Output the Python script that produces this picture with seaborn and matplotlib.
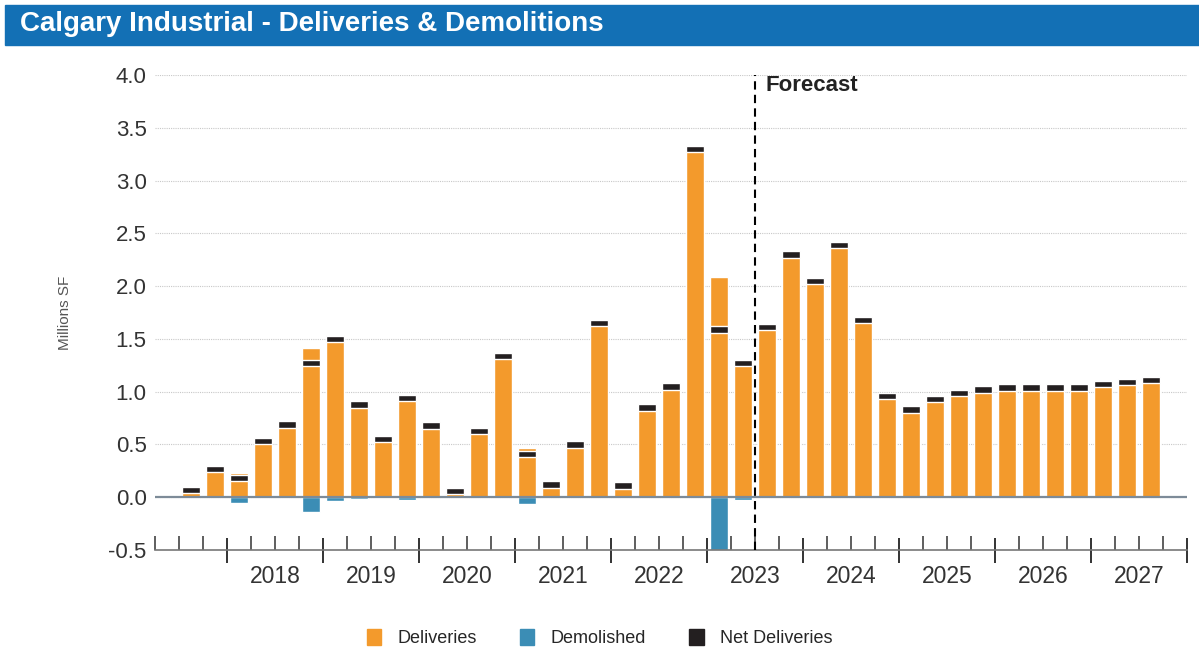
import matplotlib
matplotlib.use("Agg")
import matplotlib.pyplot as plt
import matplotlib.patches as mpatches
import seaborn as sns
import pandas as pd
import numpy as np

# Quarterly data, 2017 Q3 to 2027 Q3 (millions SF)
quarters = [f"{y} Q{q}" for y in range(2017, 2028) for q in range(1, 5)][2:-1]
deliveries = [0.07, 0.27,
              0.23, 0.53, 0.69, 1.41,
              1.54, 0.90, 0.56, 0.97,
              0.68, 0.06, 0.63, 1.34,
              0.47, 0.12, 0.50, 1.65,
              0.11, 0.85, 1.05, 3.30,
              2.09, 1.30, 1.61, 2.30,
              2.05, 2.39, 1.68, 0.96,
              0.83, 0.93, 0.99, 1.02,
              1.04, 1.04, 1.04, 1.04,
              1.07, 1.09, 1.11]
demolished = [0.0, 0.0,
              -0.05, 0.0, 0.0, -0.14,
              -0.04, -0.02, -0.01, -0.03,
              0.0, 0.0, 0.0, 0.0,
              -0.06, 0.0, 0.0, 0.0,
              0.0, 0.0, 0.0, 0.0,
              -0.50, -0.03, 0.0, 0.0,
              0.0, 0.0, 0.0, 0.0,
              0.0, 0.0, 0.0, 0.0,
              0.0, 0.0, 0.0, 0.0,
              0.0, 0.0, 0.0]
years = list(range(2018, 2028))
forecast_start = "2023 Q3"

df = pd.DataFrame({"quarter": quarters, "deliveries": deliveries, "demolished": demolished})
df["net"] = df["deliveries"] + df["demolished"]

orange = "#F39A2C"
blue = "#3B8DB5"
black = "#231F20"

sns.set_style("white")
plt.rcParams["font.family"] = ["Liberation Sans", "DejaVu Sans"]

fig = plt.figure(figsize=(11.99, 6.5), dpi=100)
ax = fig.add_axes([0.1293, 0.1538, 0.8607, 0.7308])

bw = 0.76
sns.barplot(data=df, x="quarter", y="deliveries", color=orange, saturation=1,
            width=bw, ax=ax, zorder=2)
sns.barplot(data=df, x="quarter", y="demolished", color=blue, saturation=1,
            width=bw, ax=ax, zorder=2)
pos = np.arange(len(df))
mark_h = 0.06
ax.bar(pos, mark_h, bottom=df["net"] - mark_h / 2, width=bw, color=black, zorder=4)

ax.set_ylim(-0.5, 4.0)
ax.set_xlim(-1.5, len(df) + 0.5)
yt = np.arange(-0.5, 4.01, 0.5)
ax.set_yticks(yt)
ax.set_yticklabels([f"{v:.1f}" for v in yt], fontsize=16, color="#333333")
ax.yaxis.grid(True, color="#c8c8c8", linestyle=(0, (1, 1)), linewidth=0.8, zorder=0)
ax.axhline(0, color="#7d8b98", linewidth=1.6, zorder=3)
ax.tick_params(axis="y", length=0, pad=6)
ax.set_ylabel("Millions SF", fontsize=11, color="#555555", labelpad=26)
ax.set_xlabel("")

# quarter / year ticks
first_year_edge = quarters.index("2018 Q1") - 0.5
year_edges = first_year_edge + 4 * np.arange(len(years) + 1)
quarter_edges = np.arange(-1.5, len(df) + 0.6, 1.0)
ax.set_xticks(year_edges)
ax.set_xticklabels([])
ax.set_xticks([e for e in quarter_edges if e not in set(year_edges)], minor=True)
ax.tick_params(axis="x", which="major", direction="inout", length=18, width=1.4,
               color="#333333", bottom=True)
ax.tick_params(axis="x", which="minor", direction="in", length=10, width=1.1,
               color="#333333", bottom=True)
for i, y in enumerate(years):
    ax.text(year_edges[i] + 2, -0.032, str(y), transform=ax.get_xaxis_transform(),
            ha="center", va="top", fontsize=16.5, color="#333333")

for s in ["top", "right", "left"]:
    ax.spines[s].set_visible(False)
ax.spines["bottom"].set_color("#777777")
ax.spines["bottom"].set_linewidth(1.2)

# forecast divider
fx = quarters.index(forecast_start) - 0.5
ax.axvline(fx, color="black", linestyle=(0, (4, 2.5)), linewidth=1.5, zorder=5)
ax.text(fx + 0.45, 4.0, "Forecast", fontsize=16, fontweight="bold", va="top", ha="left",
        color="#222222")

# title banner
fig.patches.append(mpatches.Rectangle((0.004, 1 - 45 / 650), 0.996, 40 / 650,
                                      transform=fig.transFigure, color="#1370B5", zorder=0))
fig.text(0.017, 1 - 24 / 650, "Calgary Industrial - Deliveries & Demolitions",
         color="white", fontsize=20, fontweight="bold", va="center", ha="left")

handles = [mpatches.Patch(color=orange, label="Deliveries"),
           mpatches.Patch(color=blue, label="Demolished"),
           mpatches.Patch(color=black, label="Net Deliveries")]
fig.legend(handles=handles, loc="center", bbox_to_anchor=(0.5, 1 - 638 / 650), ncol=3,
           frameon=False, fontsize=13, handlelength=0.8, handleheight=0.95,
           columnspacing=2.4, handletextpad=0.9)

fig.savefig("out.png", dpi=100)
